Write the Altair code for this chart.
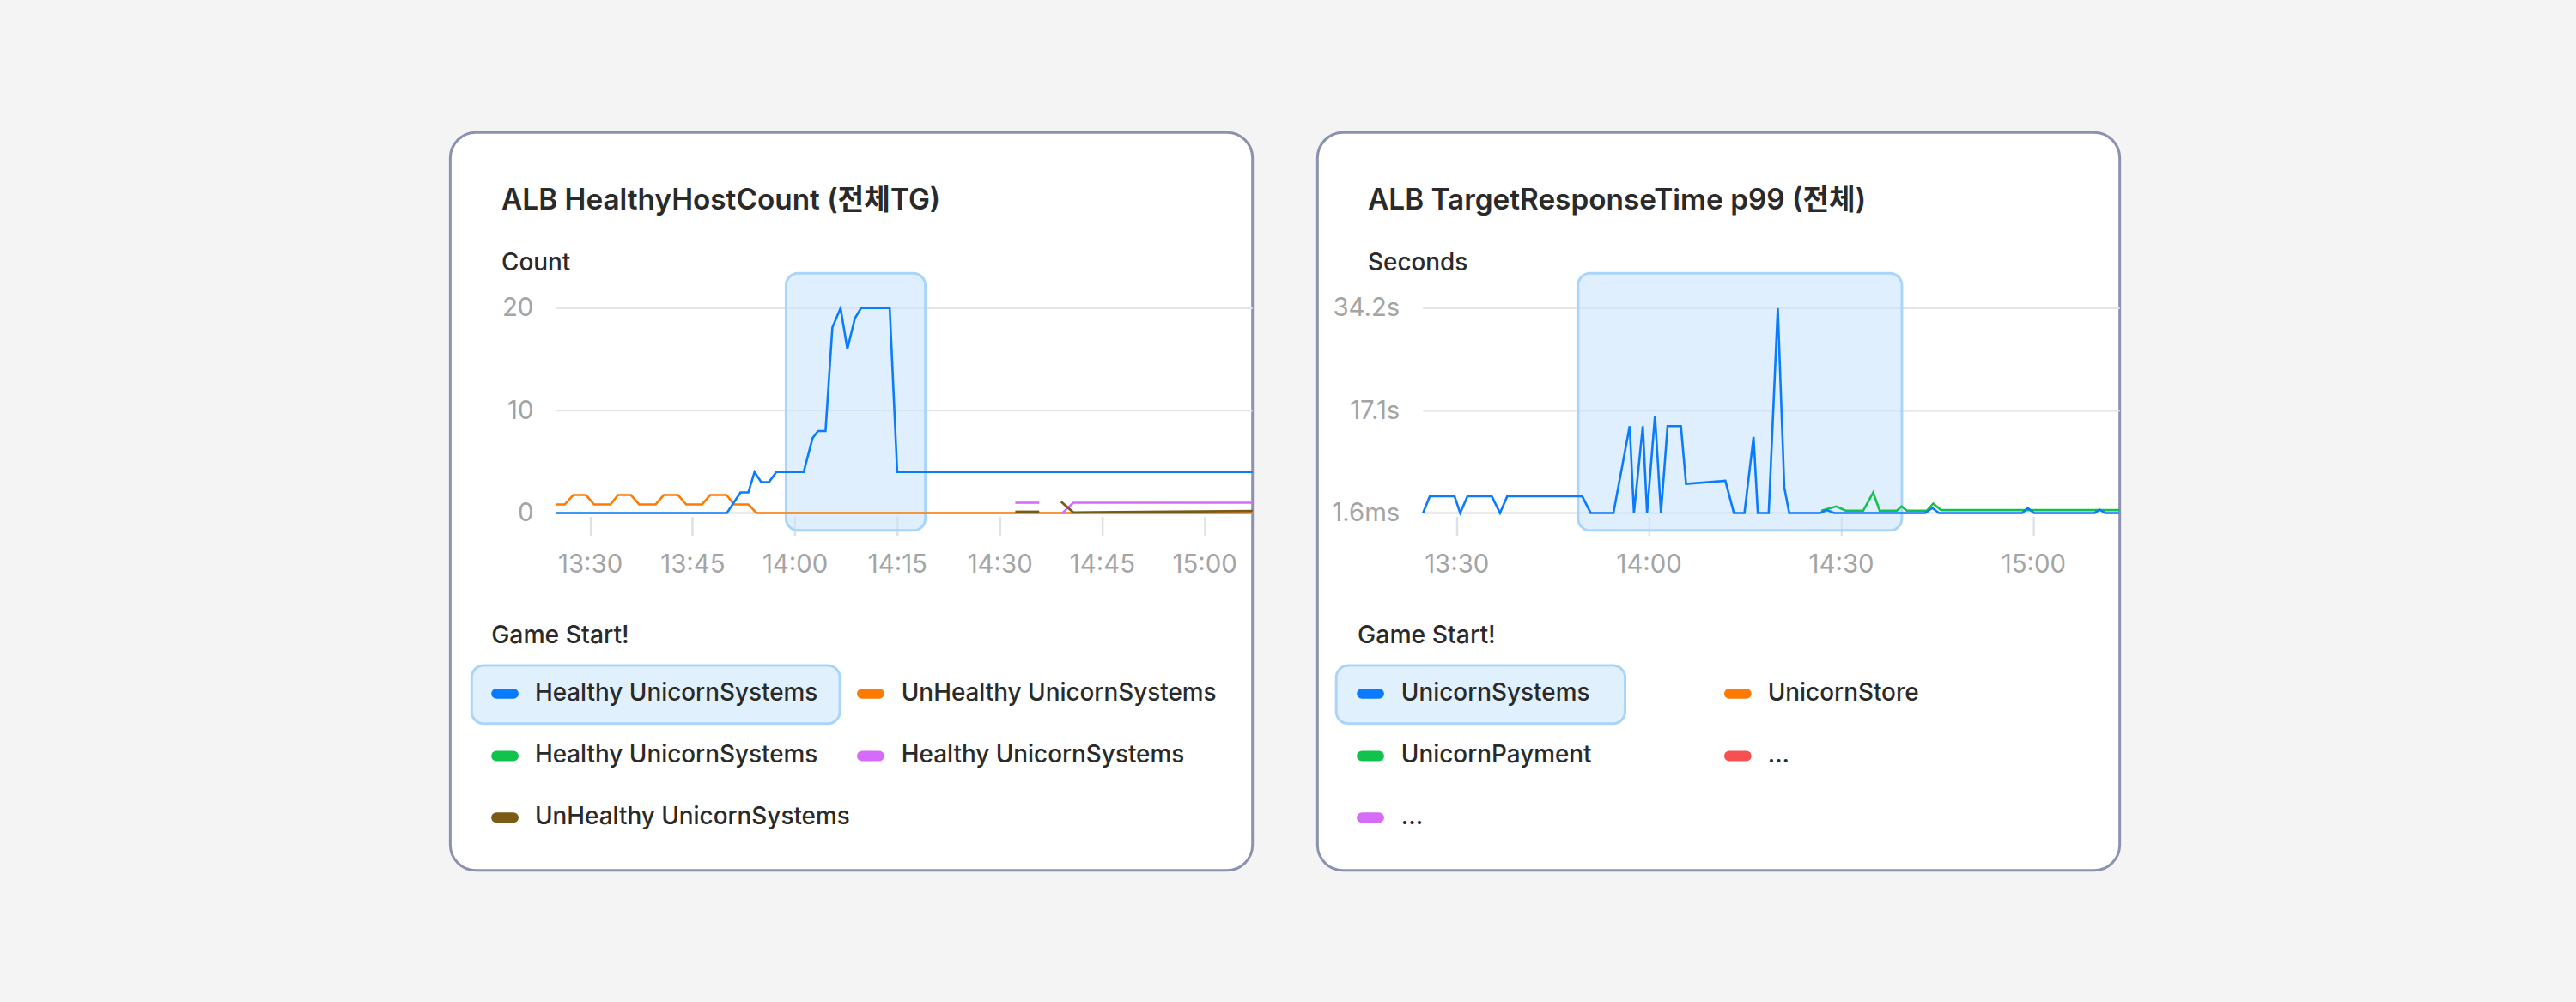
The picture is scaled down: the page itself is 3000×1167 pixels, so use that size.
import altair as alt
import pandas as pd

DAY = "2024-01-15"
FONT = "Inter, 'Noto Sans CJK KR', sans-serif"

# ---------------- ALB HealthyHostCount (count per target group) ----------------
HH_HEALTHY_SYS_T = ["13:25:00", "13:50:03", "13:52:03", "13:53:12", "13:54:06", "13:55:06",
                    "13:56:12", "13:57:18", "14:01:18", "14:02:36", "14:03:24", "14:04:30",
                    "14:05:30", "14:06:42", "14:07:42", "14:08:48", "14:09:42", "14:13:54",
                    "14:15:00", "15:07:03"]
HH_HEALTHY_SYS_V = [0, 0, 2, 2, 4, 3, 3, 4, 4, 7.3, 8, 8, 18.1, 20, 16, 19, 20, 20, 4, 4]

HH_UNHEALTHY_SYS_T = ["13:25:00", "13:26:18", "13:27:33", "13:29:24", "13:30:36", "13:33:00",
                      "13:34:06", "13:36:00", "13:37:12", "13:39:36", "13:40:48", "13:42:54",
                      "13:44:06", "13:46:24", "13:47:36", "13:50:00", "13:51:06", "13:53:12",
                      "13:54:24", "15:07:03"]
HH_UNHEALTHY_SYS_V = [0.83, 0.83, 1.75, 1.75, 0.83, 0.83, 1.75, 1.75, 0.83, 0.83, 1.75, 1.75,
                      0.83, 0.83, 1.75, 1.75, 0.83, 0.83, 0, 0]

HH_HEALTHY_B_T = ["14:32:18", "14:35:48", "14:39:12", "14:40:48", "15:07:03"]
HH_HEALTHY_B_V = [1, 1, 0, 1, 1]
HH_HEALTHY_B_RUN = [0, 0, 1, 1, 1]

HH_UNHEALTHY_B_T = ["14:32:18", "14:35:48", "14:39:00", "14:40:48", "15:07:03"]
HH_UNHEALTHY_B_V = [0.12, 0.12, 1.1, 0.05, 0.2]
HH_UNHEALTHY_B_RUN = [0, 0, 1, 1, 1]

HH_X_TICKS = ["13:30", "13:45", "14:00", "14:15", "14:30", "14:45", "15:00"]
HH_Y_TICKS = [0, 10, 20]
HH_LEGEND_LABELS = ["Healthy UnicornSystems", "UnHealthy UnicornSystems",
                    "Healthy UnicornSystems", "Healthy UnicornSystems",
                    "UnHealthy UnicornSystems"]

# ---------------- ALB TargetResponseTime p99 (seconds) ----------------
RT_SYSTEMS_T = ["13:24:46", "13:25:50", "13:29:41", "13:30:34", "13:31:43", "13:35:29",
                "13:36:47", "13:37:55", "13:49:36", "13:50:56", "13:54:29", "13:57:01",
                "13:57:41", "13:59:04", "13:59:44", "14:00:58", "14:01:54", "14:02:56",
                "14:05:01", "14:05:49", "14:11:57", "14:13:17", "14:14:56", "14:16:21",
                "14:17:01", "14:18:43", "14:20:08", "14:21:09", "14:21:55", "14:26:43",
                "14:27:49", "14:28:56", "14:43:09", "14:44:16", "14:45:17", "14:58:16",
                "14:59:09", "15:00:08", "15:09:36", "15:10:21", "15:11:14", "15:13:30"]
RT_SYSTEMS_V = [0.0016, 2.8, 2.8, 0.0016, 2.8, 2.8, 0.0016, 2.8, 2.8, 0.0016, 0.0016, 14.5,
                0.0016, 14.5, 0.0016, 16.25, 0.0016, 14.5, 14.5, 4.85, 5.37, 0.0016, 0.0016,
                12.7, 0.0016, 0.0016, 34.2, 4.27, 0.0016, 0.0016, 0.48, 0.0016, 0.0016, 0.85,
                0.0016, 0.0016, 0.81, 0.0016, 0.0016, 0.57, 0.0016, 0.0016]

RT_PAYMENT_T = ["14:26:56", "14:29:17", "14:30:43", "14:33:28", "14:35:01", "14:36:02",
                "14:38:43", "14:39:28", "14:40:16", "14:43:22", "14:44:24", "14:45:36",
                "15:13:30"]
RT_PAYMENT_V = [0.4, 1.1, 0.38, 0.38, 3.4, 0.38, 0.38, 1.1, 0.38, 0.38, 1.57, 0.48, 0.48]

RT_X_TICKS = ["13:30", "14:00", "14:30", "15:00"]
RT_Y_TICKS = [0.0016, 17.1, 34.2]
RT_LEGEND_LABELS = ["UnicornSystems", "UnicornStore", "UnicornPayment", "...", "..."]

# palette
BLUE, ORANGE, GREEN = "#0a7bff", "#ff7a00", "#13c14d"
PURPLE, BROWN, RED = "#d56bf8", "#7a5a16", "#f55052"
HH_LEGEND_COLORS = [BLUE, ORANGE, GREEN, PURPLE, BROWN]
RT_LEGEND_COLORS = [BLUE, ORANGE, GREEN, RED, PURPLE]

TEXT = "#2a2a2a"
AXIS_TEXT = "#a4a4a4"
GRID = "#e3e5ea"
HILITE_FILL = "#cce5fb"
HILITE_STROKE = "#a9d5fa"

CARD_W, CARD_H = 939, 864
Y_ZERO_PX, Y_TOP_PX = 445.5, 205.7
TICK_TOP = 449.7
AXIS_FONT_SIZE = 29.5


def dt(hms):
    parts = [int(p) for p in hms.split(":")] + [0]
    return alt.DateTime(year=2024, month=1, date=15, hours=parts[0], minutes=parts[1],
                        seconds=parts[2])


def frame(times, values, runs=None):
    return pd.DataFrame({
        "t": [f"{DAY}T{x}" for x in times],
        "v": values,
        "run": runs if runs is not None else [0] * len(times),
    })


def text_layer(s, x, y, size, weight, color=TEXT, align="left"):
    return alt.Chart(alt.Data(values=[{"s": s}])).mark_text(
        font=FONT, fontSize=size, fontWeight=weight, color=color,
        align=align, baseline="middle",
    ).encode(x=alt.value(x), y=alt.value(y), text="s:N")


def card(title, unit, series, x_dom, x_range, x_ticks, y_dom, y_ticks, y_label_expr,
         legend_labels, legend_colors, g):
    xs = alt.Scale(domain=[dt(x_dom[0]), dt(x_dom[1])], range=x_range)
    ys = alt.Scale(domain=y_dom, range=[Y_ZERO_PX, Y_TOP_PX])
    x_axis = alt.Axis(
        values=[dt(v) for v in x_ticks], format="%H:%M", orient="bottom",
        offset=TICK_TOP - CARD_H, domain=False, grid=False, ticks=True, tickSize=22,
        tickWidth=2.5, tickColor="#dde1e8", labelFont=FONT, labelFontSize=AXIS_FONT_SIZE,
        labelColor=AXIS_TEXT, labelPadding=20, labelFlush=False, labelOverlap=False,
        title=None,
    )
    y_kw = dict(labelExpr=y_label_expr) if y_label_expr else dict(format="d")
    y_axis = alt.Axis(
        values=y_ticks, orient="left", offset=-x_range[0], domain=False, grid=False,
        ticks=False, tickSize=0, labelFont=FONT, labelFontSize=AXIS_FONT_SIZE,
        labelColor=AXIS_TEXT, labelPadding=g["ylab_pad"], title=None, **y_kw,
    )

    layers = []
    # horizontal gridlines across the plot to the card edge
    layers.append(
        alt.Chart(pd.DataFrame({"v": y_ticks})).mark_rule(color=GRID, strokeWidth=2.5)
        .encode(y=alt.Y("v:Q", scale=ys, axis=y_axis),
                x=alt.value(x_range[0]), x2=alt.value(CARD_W))
    )
    # highlighted time window
    layers.append(
        alt.Chart(alt.Data(values=[{}])).mark_rect(
            fill=HILITE_FILL, fillOpacity=0.6, stroke=HILITE_STROKE, strokeWidth=3,
            cornerRadius=14,
        ).encode(x=alt.value(g["box"][0]), x2=alt.value(g["box"][1]),
                 y=alt.value(165), y2=alt.value(466))
    )
    # metric lines
    for df, color, width in series:
        layers.append(
            alt.Chart(df).mark_line(color=color, strokeWidth=width).encode(
                x=alt.X("t:T", scale=xs, axis=x_axis),
                y=alt.Y("v:Q", scale=ys, axis=y_axis),
                detail="run:N",
            )
        )

    # headings
    layers.append(text_layer(title, g["title_x"], 80, 33.5, 600))
    layers.append(text_layer(unit, g["title_x"], 154, 28, 500))
    layers.append(text_layer("Game Start!", g["legend_x"], 589, 28.5, 500))

    # legend: highlighted first entry + two-column items
    layers.append(
        alt.Chart(alt.Data(values=[{}])).mark_rect(
            fill="#e1f0fd", stroke=HILITE_STROKE, strokeWidth=3, cornerRadius=14,
        ).encode(x=alt.value(g["lbox"][0]), x2=alt.value(g["lbox"][1]),
                 y=alt.value(624), y2=alt.value(692))
    )
    row_y = [657, 730, 802]
    for i, (lab, col) in enumerate(zip(legend_labels, legend_colors)):
        r, c = divmod(i, 2)
        px = g["pill_x"][c]
        layers.append(
            alt.Chart(alt.Data(values=[{}])).mark_rule(
                color=col, strokeWidth=12, strokeCap="round",
            ).encode(x=alt.value(px + 6), x2=alt.value(px + 26), y=alt.value(row_y[r]))
        )
        layers.append(text_layer(lab, g["label_x"][c], row_y[r], 28, 500))

    return alt.layer(*layers).properties(width=CARD_W, height=CARD_H)


left = card(
    "ALB HealthyHostCount (전체TG)", "Count",
    [
        (frame(HH_UNHEALTHY_SYS_T, HH_UNHEALTHY_SYS_V), ORANGE, 2.6),
        (frame(HH_HEALTHY_SYS_T, HH_HEALTHY_SYS_V), BLUE, 2.6),
        (frame(HH_HEALTHY_B_T, HH_HEALTHY_B_V, HH_HEALTHY_B_RUN), PURPLE, 2.6),
        (frame(HH_UNHEALTHY_B_T, HH_UNHEALTHY_B_V, HH_UNHEALTHY_B_RUN), BROWN, 2.8),
    ],
    ("13:25:00", "15:07:03"), [123.6, CARD_W], HH_X_TICKS,
    [0, 20], HH_Y_TICKS, None,
    HH_LEGEND_LABELS, HH_LEGEND_COLORS,
    dict(title_x=60, legend_x=48, box=(393, 556), lbox=(25, 456),
         pill_x=(48, 476), label_x=(99, 528), ylab_pad=26.6),
)

right = card(
    "ALB TargetResponseTime p99 (전체)", "Seconds",
    [
        (frame(RT_PAYMENT_T, RT_PAYMENT_V), GREEN, 2.6),
        (frame(RT_SYSTEMS_T, RT_SYSTEMS_V), BLUE, 2.6),
    ],
    ("13:24:46", "15:13:30"), [123.5, CARD_W], RT_X_TICKS,
    [0.0016, 34.2], RT_Y_TICKS,
    "datum.value < 1 ? format(datum.value * 1000, '.1f') + 'ms' : format(datum.value, '.1f') + 's'",
    RT_LEGEND_LABELS, RT_LEGEND_COLORS,
    dict(title_x=59, legend_x=47, box=(305, 684), lbox=(22, 360),
         pill_x=(46, 476), label_x=(98, 527), ylab_pad=27.5),
)

# the 3px card stroke adds 1.5px on each side of the content bounds
chart = (
    alt.hconcat(left, right, spacing=66)
    .resolve_scale(x="independent", y="independent")
    .properties(padding={"left": 525, "top": 150, "right": 527, "bottom": 149})
    .configure(background="#f4f4f4")
    .configure_view(fill="white", stroke="#8b92af", strokeWidth=3, cornerRadius=30)
)

chart.save("out.html", embed_options={"renderer": "svg", "actions": False})
